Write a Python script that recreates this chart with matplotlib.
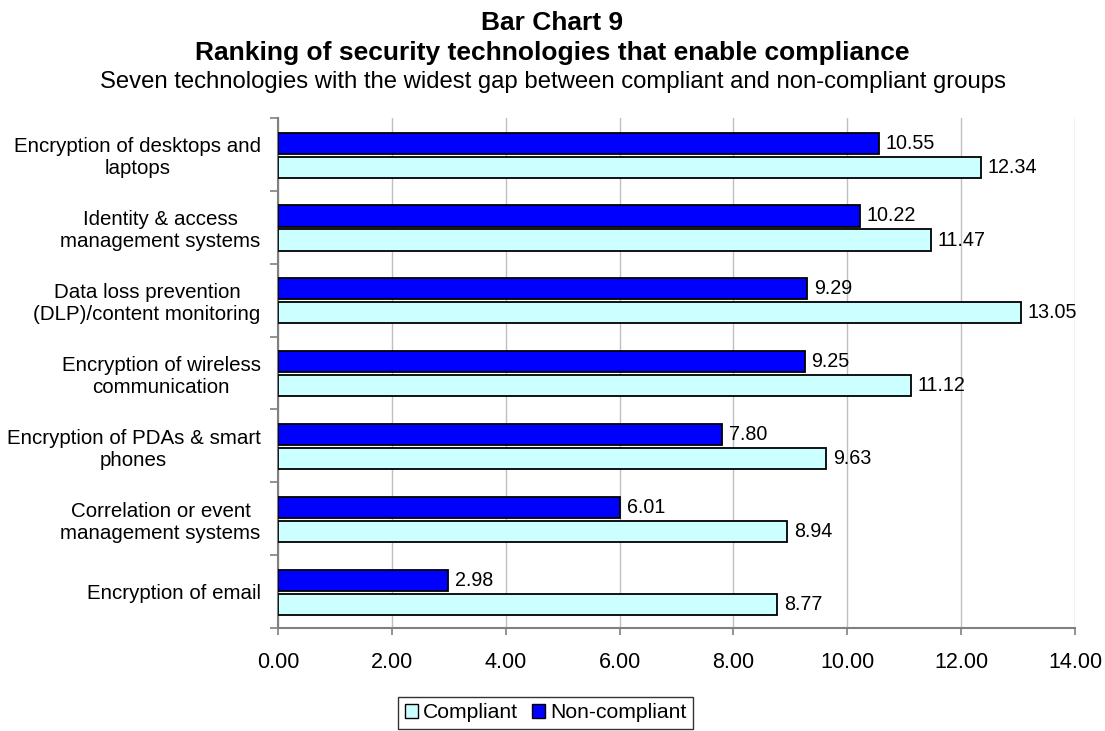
import matplotlib.pyplot as plt
import numpy as np
from matplotlib.patches import Patch

plt.rcParams['font.family'] = ['Liberation Sans', 'DejaVu Sans']

categories = [
    "Encryption of desktops and\nlaptops",
    "Identity & access\nmanagement systems",
    "Data loss prevention\n(DLP)/content monitoring",
    "Encryption of wireless\ncommunication",
    "Encryption of PDAs & smart\nphones",
    "Correlation or event\nmanagement systems",
    "Encryption of email",
]
non_compliant = [10.55, 10.22, 9.29, 9.25, 7.80, 6.01, 2.98]
compliant = [12.34, 11.47, 13.05, 11.12, 9.63, 8.94, 8.77]

DARK = "#0000ff"
LIGHT = "#ccffff"
GRID = "#c0c0c0"
SPINE = "#808080"

fig = plt.figure(figsize=(11.05, 7.31), dpi=100)
ax = fig.add_axes([0.2516, 0.1409, 0.7213, 0.6977])

y = np.arange(len(categories))[::-1].astype(float)
h = 0.29

b1 = ax.barh(y + 0.155, non_compliant, height=h, color=DARK, edgecolor="black", linewidth=1.3, zorder=3)
b2 = ax.barh(y - 0.175, compliant, height=h, color=LIGHT, edgecolor="black", linewidth=1.3, zorder=3)

for bars, vals in ((b1, non_compliant), (b2, compliant)):
    for bar, v in zip(bars, vals):
        ax.text(v + 0.12, bar.get_y() + bar.get_height() / 2, f"{v:.2f}",
                va="center", ha="left", fontsize=14.2, zorder=4)

ax.set_xlim(0, 14)
ax.set_ylim(-0.5, len(categories) - 0.5)
ax.set_xticks(np.arange(0, 15, 2))
ax.set_xticklabels([f"{t:.2f}" for t in np.arange(0, 15, 2)], fontsize=15.5)
ax.tick_params(axis="x", length=5, color=SPINE, pad=12, width=1.2)

ax.set_yticks(y)
ax.set_yticklabels(categories, fontsize=14.8, ha="right", multialignment="center")
ax.tick_params(axis="y", which="major", length=0, pad=12.5)
ax.set_yticks(np.arange(-0.5, len(categories), 1.0), minor=True)
ax.tick_params(axis="y", which="minor", length=6, color=SPINE, width=1.2)

ax.xaxis.grid(True, color=GRID, linewidth=1, zorder=0)
ax.set_axisbelow(True)
for s in ("top", "right"):
    ax.spines[s].set_visible(False)
for s in ("left", "bottom"):
    ax.spines[s].set_color(SPINE)
    ax.spines[s].set_linewidth(1.5)

fig.text(0.5, 0.959, "Bar Chart 9", ha="center", va="baseline", fontsize=19, fontweight="bold")
fig.text(0.5, 0.918, "Ranking of security technologies that enable compliance",
         ha="center", va="baseline", fontsize=19, fontweight="bold")
fig.text(0.5, 0.880, "Seven technologies with the widest gap between compliant and non-compliant groups",
         ha="center", va="baseline", fontsize=17.2)

handles = [Patch(facecolor=LIGHT, edgecolor="black"), Patch(facecolor=DARK, edgecolor="black")]
leg = fig.legend(handles, ["Compliant", "Non-compliant"], loc="center", bbox_to_anchor=(0.494, 0.025),
                 ncol=2, fontsize=15.2, frameon=True, fancybox=False, handlelength=0.62,
                 handleheight=0.62, handletextpad=0.25, columnspacing=0.66, borderpad=0.3,
                 borderaxespad=0)
leg.get_frame().set_edgecolor("black")
leg.get_frame().set_linewidth(1)

fig.savefig("out.png", dpi=100, facecolor="white")
